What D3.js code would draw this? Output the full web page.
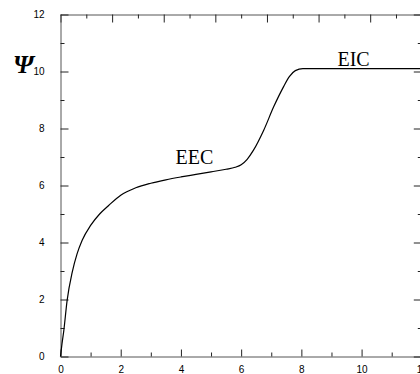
<!DOCTYPE html>
<html>
<head>
<meta charset="utf-8">
<script src="https://cdn.jsdelivr.net/npm/d3@7"></script>
<style>
  html, body { margin: 0; padding: 0; background: #fff; }
  svg { display: block; }
  .tick text { font-family: "Liberation Sans", Arial, sans-serif; font-size: 10px; fill: #000; }
</style>
</head>
<body>
<svg id="chart" width="420" height="374"></svg>
<script>
// Data
const curveX = [0, 0.05, 0.11, 0.22, 0.39, 0.55, 0.72, 1.0, 1.3, 1.6, 2.0, 2.5, 3.0, 3.5, 4.0, 4.5, 5.0, 5.5, 5.8, 6.0, 6.2, 6.41, 6.75, 7.08, 7.41, 7.6, 7.8, 8.05, 8.4, 9.0, 10.0, 12.0];
const curveY = [0, 0.45, 0.91, 1.97, 2.96, 3.6, 4.08, 4.6, 5.0, 5.3, 5.66, 5.92, 6.08, 6.2, 6.3, 6.39, 6.48, 6.57, 6.64, 6.73, 6.92, 7.24, 7.94, 8.76, 9.47, 9.82, 10.03, 10.1, 10.1, 10.1, 10.1, 10.1];
const xMajorTicks = [0, 2, 4, 6, 8, 10, 12];
const xMinorTicks = [1, 3, 5, 7, 9, 11];
const yMajorTicks = [0, 2, 4, 6, 8, 10, 12];
const yMinorTicks = [1, 3, 5, 7, 9, 11];
const topMajorTicks = [0, 2, 4, 6, 8, 10, 12, 14];
const topMinorTicks = [1, 3, 5, 7, 9, 11, 13];
const annotations = [
  { text: "EEC", x: 3.82, y: 6.75 },
  { text: "EIC", x: 9.2, y: 10.2 }
];
const yLabel = "Ψ";

const svg = d3.select("#chart");
const mLeft = 60.5, mRight = 421.8, mBottom = 356.5, mTop = 14.5;

const x = d3.scaleLinear().domain([0, 12]).range([mLeft, mRight]);
const xTop = d3.scaleLinear().domain([0, 14]).range([mLeft, mRight]);
const y = d3.scaleLinear().domain([0, 12]).range([mBottom, mTop]);

function styleAxis(g) {
  g.select(".domain").attr("stroke", "#555").attr("stroke-width", 1);
  g.selectAll(".tick line").attr("stroke", "#222").attr("stroke-width", 1);
}

// Bottom axis
svg.append("g").attr("transform", `translate(0,${mBottom})`)
  .call(d3.axisBottom(x).tickValues(xMajorTicks).tickFormat(d3.format("d")).tickSizeInner(-7).tickSizeOuter(0).tickPadding(9))
  .call(styleAxis);
svg.append("g").attr("transform", `translate(0,${mBottom})`)
  .call(d3.axisBottom(x).tickValues(xMinorTicks).tickFormat("").tickSizeInner(-4).tickSizeOuter(0))
  .call(styleAxis).call(g => g.select(".domain").remove());

// Top axis
svg.append("g").attr("transform", `translate(0,${mTop})`)
  .call(d3.axisTop(xTop).tickValues(topMajorTicks).tickFormat("").tickSizeInner(-8).tickSizeOuter(0))
  .call(styleAxis);
svg.append("g").attr("transform", `translate(0,${mTop})`)
  .call(d3.axisTop(xTop).tickValues(topMinorTicks).tickFormat("").tickSizeInner(-4).tickSizeOuter(0))
  .call(styleAxis).call(g => g.select(".domain").remove());

// Left axis
svg.append("g").attr("transform", `translate(${mLeft},0)`)
  .call(d3.axisLeft(y).tickValues(yMajorTicks).tickFormat(d3.format("d")).tickSizeInner(-8).tickSizeOuter(0).tickPadding(16))
  .call(styleAxis);
svg.append("g").attr("transform", `translate(${mLeft},0)`)
  .call(d3.axisLeft(y).tickValues(yMinorTicks).tickFormat("").tickSizeInner(-4).tickSizeOuter(0))
  .call(styleAxis).call(g => g.select(".domain").remove());

// Right axis
svg.append("g").attr("transform", `translate(${mRight},0)`)
  .call(d3.axisRight(y).tickValues(yMajorTicks).tickFormat("").tickSizeInner(-8).tickSizeOuter(0))
  .call(styleAxis);
svg.append("g").attr("transform", `translate(${mRight},0)`)
  .call(d3.axisRight(y).tickValues(yMinorTicks).tickFormat("").tickSizeInner(-4).tickSizeOuter(0))
  .call(styleAxis).call(g => g.select(".domain").remove());

// Curve
const pts = curveX.map((v, i) => [v, curveY[i]]);
const line = d3.line().x(d => x(d[0])).y(d => y(d[1])).curve(d3.curveMonotoneX);
svg.append("path").datum(pts)
  .attr("d", line)
  .attr("fill", "none")
  .attr("stroke", "#000")
  .attr("stroke-width", 1.2);

// Annotations
svg.selectAll("text.ann").data(annotations).enter().append("text")
  .attr("class", "ann")
  .attr("x", d => x(d.x))
  .attr("y", d => y(d.y))
  .attr("font-family", "'Liberation Serif', 'Times New Roman', serif")
  .attr("font-size", 20)
  .attr("fill", "#000")
  .text(d => d.text);

// Y label
svg.append("text")
  .attr("x", 13)
  .attr("y", 73)
  .attr("font-family", "'Liberation Serif', 'Times New Roman', serif")
  .attr("font-style", "italic")
  .attr("font-weight", "bold")
  .attr("font-size", 26)
  .attr("fill", "#000")
  .text(yLabel);
</script>
</body>
</html>
